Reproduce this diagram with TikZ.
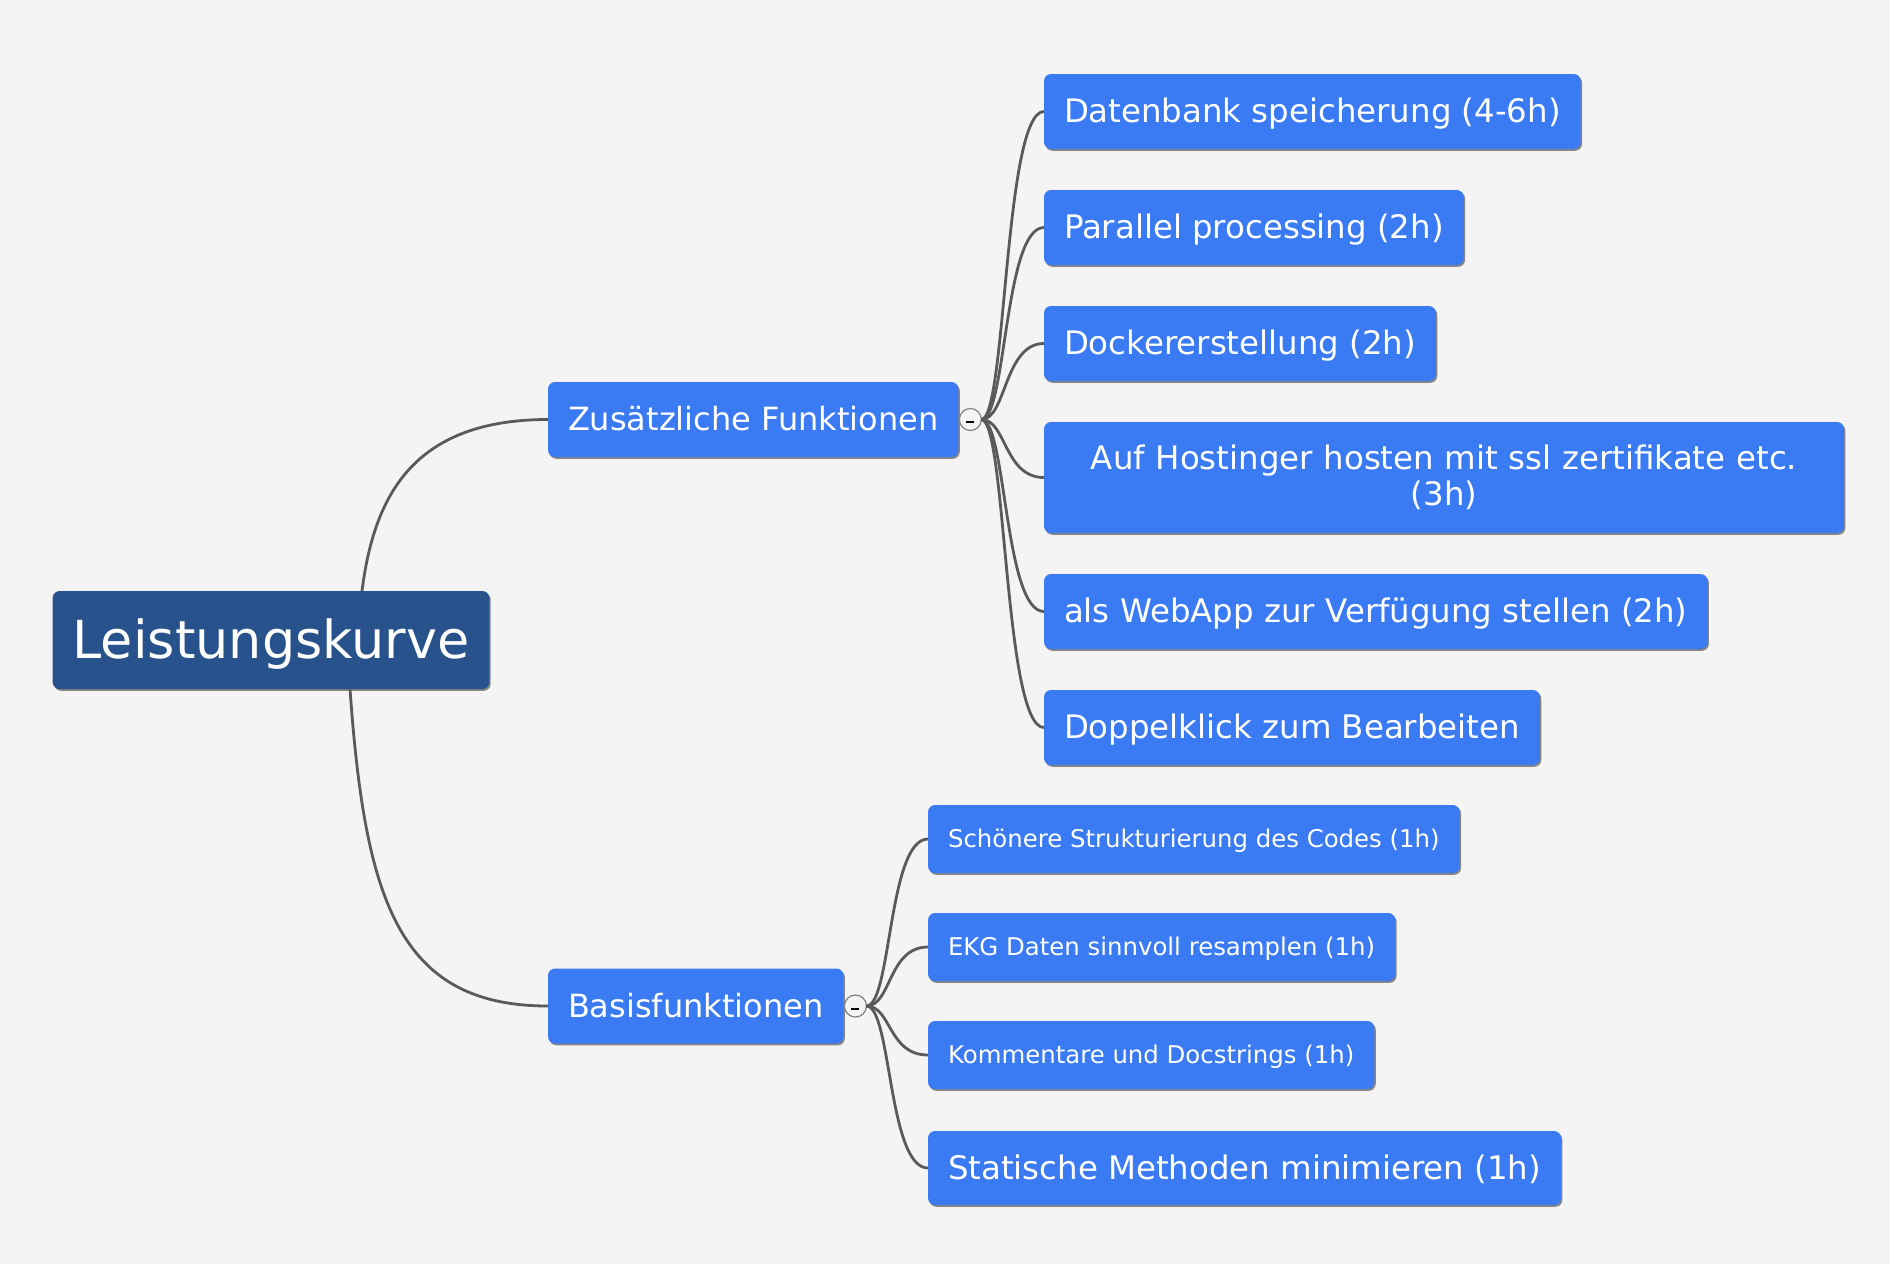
\documentclass[tikz,border=0pt]{standalone}
\usepackage{fontspec}
\setmainfont{DejaVu Sans}
\usetikzlibrary{positioning,shadows}
\definecolor{bgc}{HTML}{F4F4F4}
\definecolor{rootc}{HTML}{27528B}
\definecolor{kidc}{HTML}{3A7BF4}
\definecolor{linkc}{HTML}{5A5A5A}

\begin{document}
\begin{tikzpicture}
[x=0.5pt,y=-0.5pt,
 box/.style={text=white,rounded corners=3.5pt,inner xsep=10pt,inner ysep=0pt,outer sep=0pt,
   drop shadow={shadow xshift=0.7pt,shadow yshift=-0.9pt,opacity=0.45,fill=black}},
 root/.style={box,fill=rootc,minimum height=49pt,text height=23.6pt,text depth=5.4pt,
   font=\fontsize{26.2}{30}\selectfont},
 kidbase/.style={box,fill=kidc,minimum height=37.5pt,anchor=west,font=\fontsize{16.2}{18}\selectfont},
 kid/.style={kidbase,text height=14.6pt,text depth=3.3pt},
 branch/.style={kid,font=\fontsize{16}{18}\selectfont},
 leaf/.style={kid,minimum height=34pt,text height=11pt,text depth=2.5pt,font=\fontsize{12.2}{14}\selectfont},
 fold/.style={circle,draw=gray,line width=0.6pt,fill=bgc,minimum size=11pt,inner sep=0pt,outer sep=0pt},
 link/.style={draw=linkc,line width=1.4pt}]

\fill[bgc] (0,0) rectangle (1890,1264);
\useasboundingbox (0,0) rectangle (1890,1264);

% root
\node[root]   (Lk) at (271,640) {Leistungskurve};
\node[branch] (Zf) at (548,419.5) {Zusätzliche Funktionen};
\node[branch] (Bf) at (548,1006)  {Basisfunktionen};
\node[fold] (Zfc) [right=0.5pt of Zf] {\rule[-0.9pt]{4pt}{1pt}\rule{0pt}{3pt}};
\node[fold] (Bfc) [right=0.5pt of Bf] {\rule[-0.9pt]{4pt}{1pt}\rule{0pt}{3pt}};
\path[link] ([xshift=45.5pt]Lk.north) .. controls +(12,-95) and +(-135,0) .. (Zf.west);
\path[link] ([xshift=39.5pt]Lk.south) .. controls +(15,210) and +(-150,0) .. (Bf.west);

% zusaetzliche
\node[kid] (Db) at (1044,111.5) {Datenbank speicherung (4-6h)};
\node[kid] (Pp) [on grid,below=58pt of Db.west,anchor=west] {Parallel processing (2h)};
\node[kid] (Dk) [on grid,below=58pt of Pp.west,anchor=west] {Dockererstellung (2h)};
\node[kidbase,minimum height=55.5pt,text width=380pt,align=center]
           (Ho) [on grid,below=67pt of Dk.west,anchor=west] {Auf Hostinger hosten mit ssl zertifikate etc.\\(3h)};
\node[kid] (Wa) [on grid,below=67pt of Ho.west,anchor=west] {als WebApp zur Verfügung stellen (2h)};
\node[kid] (Dp) [on grid,below=58pt of Wa.west,anchor=west] {Doppelklick zum Bearbeiten};
\path[link] (Zfc.east) .. controls +(25,0) and +(-40,0) .. (Db.west);
\path[link] (Zfc.east) .. controls +(25,0) and +(-40,0) .. (Pp.west);
\path[link] (Zfc.east) .. controls +(25,0) and +(-40,0) .. (Dk.west);
\path[link] (Zfc.east) .. controls +(25,0) and +(-40,0) .. (Ho.west);
\path[link] (Zfc.east) .. controls +(25,0) and +(-40,0) .. (Wa.west);
\path[link] (Zfc.east) .. controls +(25,0) and +(-40,0) .. (Dp.west);

% basis
\node[leaf] (Sc) at (928,839) {Schönere Strukturierung des Codes (1h)};
\node[leaf] (Ek) [on grid,below=54pt of Sc.west,anchor=west] {EKG Daten sinnvoll resamplen (1h)};
\node[leaf] (Ko) [on grid,below=54pt of Ek.west,anchor=west] {Kommentare und Docstrings (1h)};
\node[kid,minimum height=37pt]
            (St) [on grid,below=56.5pt of Ko.west,anchor=west] {Statische Methoden minimieren (1h)};
\path[link] (Bfc.east) .. controls +(25,0) and +(-40,0) .. (Sc.west);
\path[link] (Bfc.east) .. controls +(25,0) and +(-40,0) .. (Ek.west);
\path[link] (Bfc.east) .. controls +(25,0) and +(-40,0) .. (Ko.west);
\path[link] (Bfc.east) .. controls +(25,0) and +(-40,0) .. (St.west);

\end{tikzpicture}
\end{document}
